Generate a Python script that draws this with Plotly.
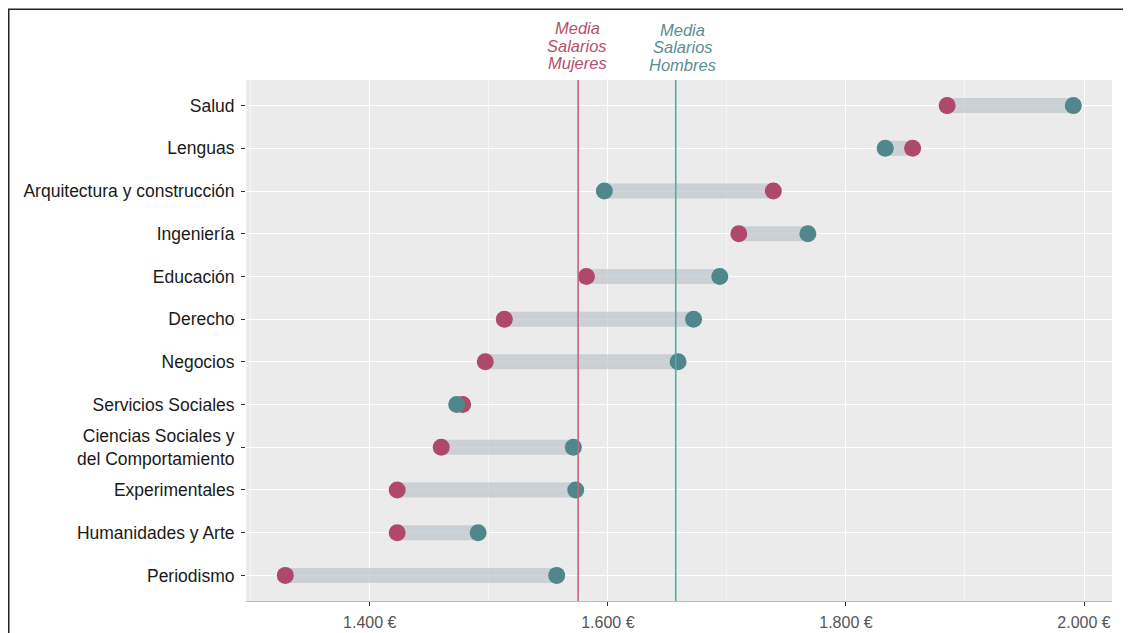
import plotly.graph_objects as go

categorias = ["Periodismo", "Humanidades y Arte", "Experimentales",
              "Ciencias Sociales y<br>del Comportamiento", "Servicios Sociales",
              "Negocios", "Derecho", "Educación", "Ingeniería",
              "Arquitectura y construcción", "Lenguas", "Salud"]
salario_mujeres = [1329, 1423, 1423, 1460, 1478, 1497, 1513, 1582, 1710, 1739, 1856, 1885]
salario_hombres = [1557, 1491, 1573, 1571, 1473, 1659, 1672, 1694, 1768, 1597, 1833, 1991]
media_mujeres = 1575
media_hombres = 1657
tick_vals = [1400, 1600, 1800, 2000]
tick_text = ["1.400 €", "1.600 €", "1.800 €", "2.000 €"]
etiqueta_mujeres = ["Media", "Salarios", "Mujeres"]
etiqueta_hombres = ["Media", "Salarios", "Hombres"]

C_MUJ = "#B0486B"
C_HOM = "#4F878B"
FONT = "Liberation Sans, Arial, sans-serif"

PH = 521.0  # panel height in px

fig = go.Figure()

# segments
for c, m, h in zip(categorias, salario_mujeres, salario_hombres):
    fig.add_trace(go.Scatter(x=[m, h], y=[c, c], mode="lines",
                             line=dict(color="rgba(192,199,206,0.75)", width=15),
                             hoverinfo="skip", showlegend=False))

fig.add_trace(go.Scatter(x=salario_mujeres, y=categorias, mode="markers",
                         marker=dict(color=C_MUJ, size=17, line=dict(width=0)),
                         name="Mujeres", showlegend=False))
fig.add_trace(go.Scatter(x=salario_hombres, y=categorias, mode="markers",
                         marker=dict(color=C_HOM, size=17, line=dict(width=0)),
                         name="Hombres", showlegend=False))

fig.add_vline(x=media_mujeres, line=dict(color="#C9627F", width=1.6), layer="above")
fig.add_vline(x=media_hombres, line=dict(color="#4DB0A6", width=1.6), layer="above")

for txt, py in zip(etiqueta_mujeres, [52, 34.5, 17.5]):
    fig.add_annotation(x=media_mujeres, y=1 + py / PH, xref="x", yref="paper",
                       text="<i>" + txt + "</i>", showarrow=False,
                       yanchor="middle", xanchor="center", xshift=-1,
                       font=dict(family=FONT, size=16.5, color="#B5506F"))
for txt, py in zip(etiqueta_hombres, [50.5, 32.5, 15]):
    fig.add_annotation(x=media_hombres, y=1 + py / PH, xref="x", yref="paper",
                       text="<i>" + txt + "</i>", showarrow=False,
                       yanchor="middle", xanchor="center", xshift=7,
                       font=dict(family=FONT, size=16.5, color="#5B8D91"))

# outer border (left and top)
top_y = 1 + 70.8 / PH
fig.add_shape(type="path", xref="paper", yref="paper",
              path=f"M -0.27396,-0.1 L -0.27396,{top_y:.4f} L 1.03,{top_y:.4f}",
              line=dict(color="#222222", width=1.5))

fig.update_layout(
    width=1123, height=628,
    margin=dict(l=238, r=19, t=72, b=35, autoexpand=False),
    paper_bgcolor="white", plot_bgcolor="#EBEBEB",
    font=dict(family=FONT),
    xaxis=dict(range=[1296, 2023.5], tickvals=tick_vals, ticktext=tick_text,
               automargin=False,
               showgrid=True, gridcolor="white", gridwidth=1.3,
               minor=dict(dtick=100, tick0=1300, showgrid=True, gridcolor="#F5F5F5", gridwidth=0.7),
               ticks="outside", ticklen=4, tickcolor="#333333", tickwidth=1,
               ticklabelstandoff=3,
               tickfont=dict(size=16, color="#555555"), zeroline=False,
               showline=True, linecolor="#BBBBBB", linewidth=1),
    yaxis=dict(categoryorder="array", categoryarray=categorias,
               automargin=False,
               range=[-0.6, 11.6], showgrid=True, gridcolor="white", gridwidth=1.3,
               ticks="outside", ticklen=4, tickcolor="#333333", tickwidth=1,
               ticklabelstandoff=3,
               tickfont=dict(size=17.5, color="#1A1A1A"), zeroline=False),
)

fig.write_html("out.html")
